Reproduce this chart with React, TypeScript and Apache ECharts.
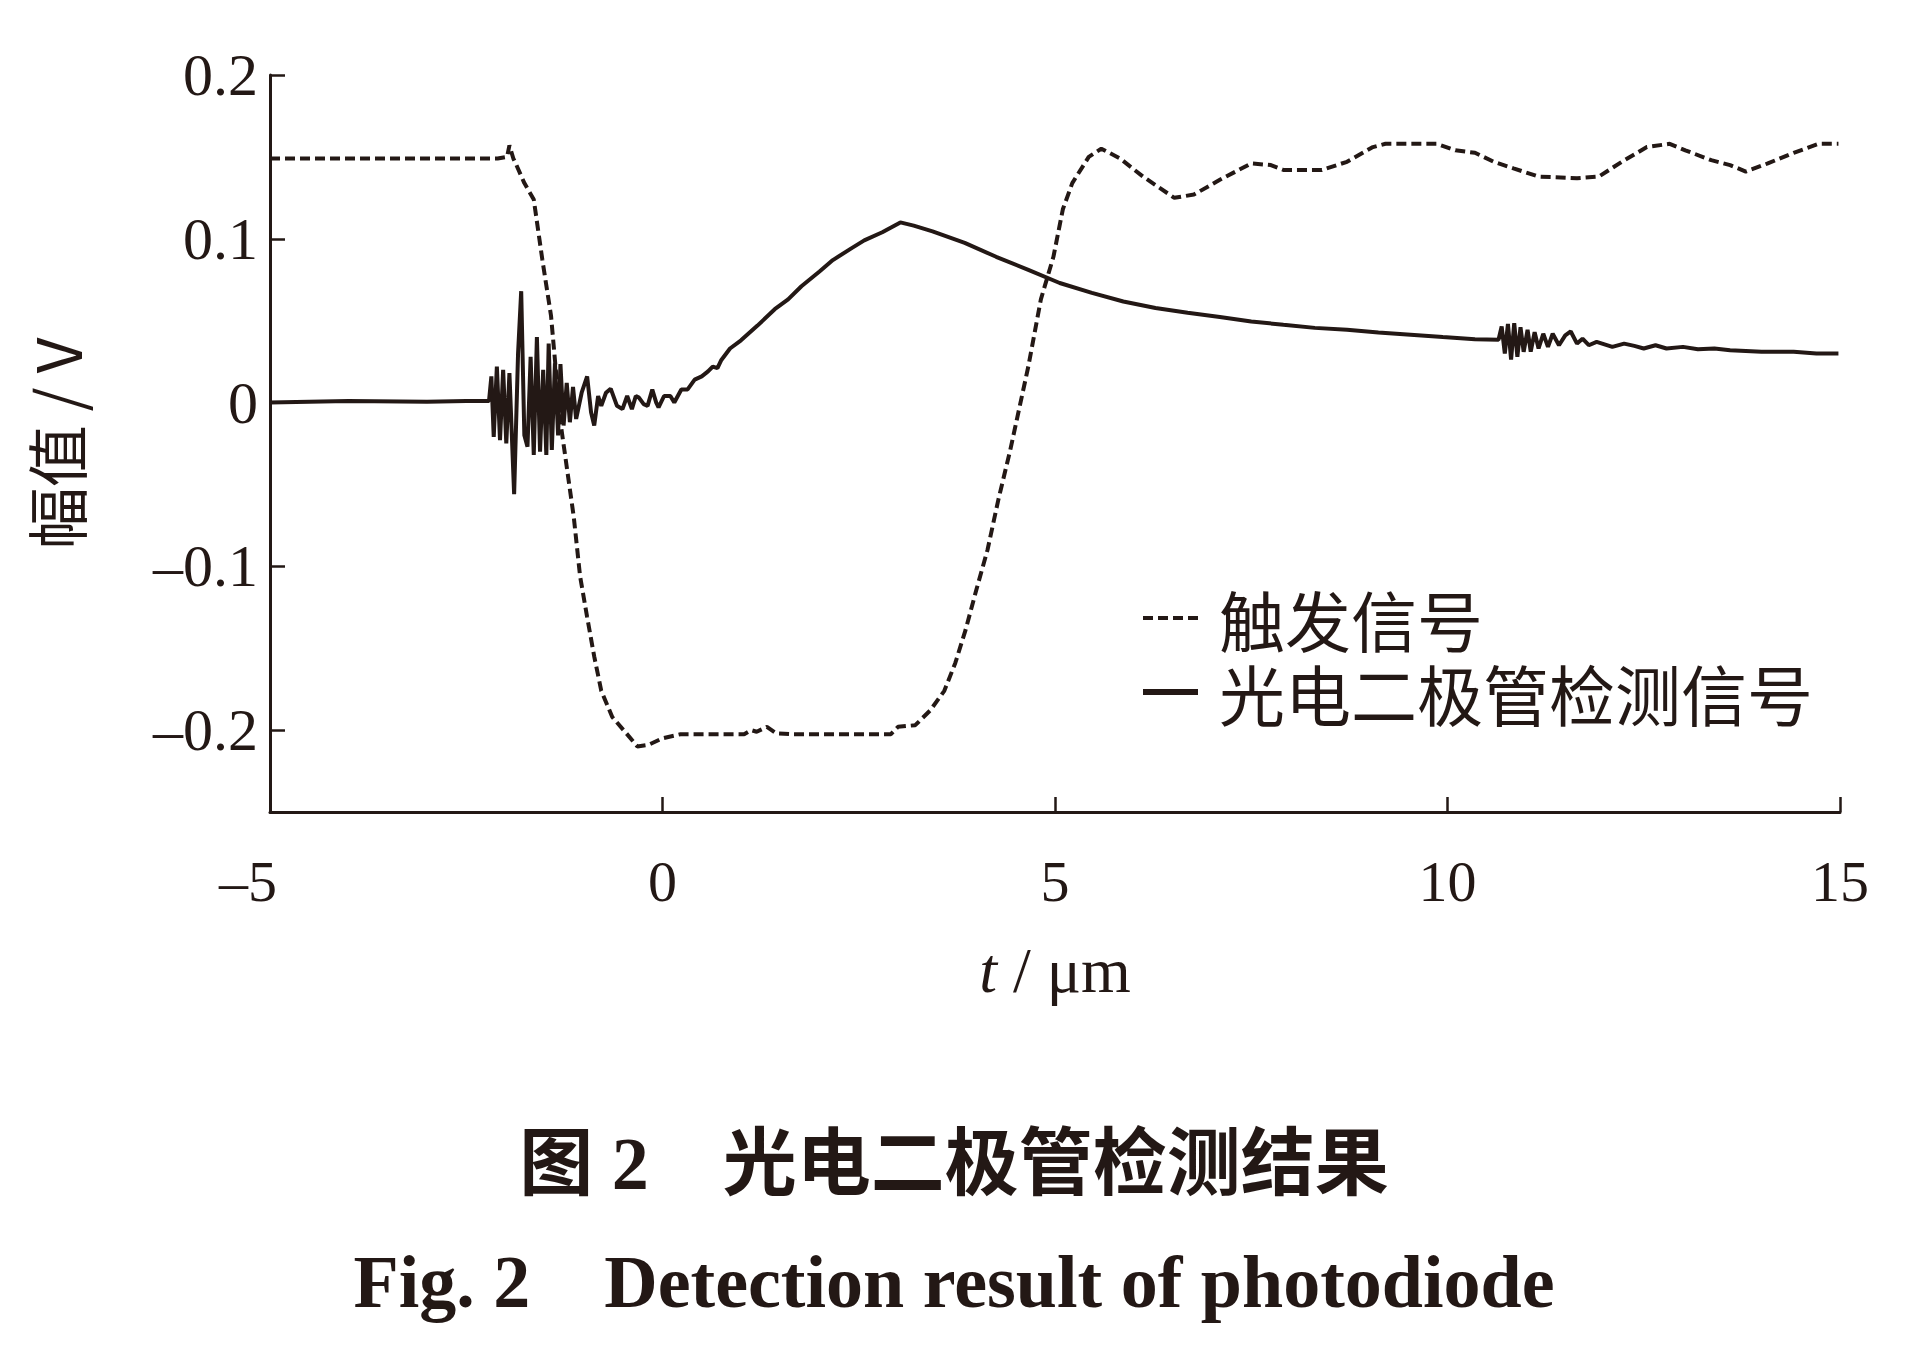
import React, { useEffect, useRef } from "react";
import * as echarts from "echarts";

const INK = "#231815";

const xTicks = [-5, 0, 5, 10, 15];
const yTicks = [-0.2, -0.1, 0, 0.1, 0.2];

const seriesNames = ["触发信号", "光电二极管检测信号"];

// 触发信号 (dashed)
const triggerT = [-5, -4, -3, -2.1, -1.98, -1.95, -1.9, -1.87, -1.76, -1.64, -1.53, -1.42, -1.3, -1.25, -1.13, -1.05, -0.96, -0.87, -0.78, -0.64, -0.46, -0.32, -0.18, 0.0, 0.23, 0.6, 1.04, 1.13, 1.2, 1.33, 1.45, 1.64, 2.2, 2.91, 3.0, 3.22, 3.41, 3.59, 3.73, 3.86, 4.0, 4.14, 4.28, 4.43, 4.66, 4.82, 4.98, 5.1, 5.22, 5.43, 5.59, 5.83, 6.12, 6.52, 6.77, 7.1, 7.5, 7.75, 7.91, 8.4, 8.72, 9.05, 9.21, 9.86, 10.1, 10.35, 10.59, 10.84, 11.16, 11.65, 11.93, 12.22, 12.54, 12.83, 13.03, 13.36, 13.6, 13.8, 14.08, 14.41, 14.73, 14.98];
const triggerV = [0.149, 0.149, 0.149, 0.149, 0.15, 0.157, 0.149, 0.146, 0.134, 0.124, 0.087, 0.053, -0.012, -0.029, -0.07, -0.106, -0.131, -0.155, -0.176, -0.192, -0.202, -0.21, -0.209, -0.205, -0.2025, -0.2025, -0.2025, -0.2, -0.201, -0.198, -0.202, -0.2025, -0.2025, -0.2025, -0.198, -0.197, -0.188, -0.176, -0.159, -0.139, -0.114, -0.09, -0.059, -0.029, 0.022, 0.063, 0.089, 0.118, 0.134, 0.15, 0.155, 0.149, 0.138, 0.125, 0.127, 0.136, 0.146, 0.145, 0.142, 0.142, 0.147, 0.156, 0.158, 0.158, 0.154, 0.1525, 0.147, 0.143, 0.138, 0.137, 0.138, 0.147, 0.156, 0.158, 0.154, 0.148, 0.145, 0.141, 0.146, 0.1525, 0.158, 0.158];

// 光电二极管检测信号 (solid)
const diodeT = [-5, -4, -3, -2.5, -2.21, -2.18, -2.15, -2.11, -2.07, -2.03, -1.99, -1.95, -1.89, -1.84, -1.8, -1.76, -1.72, -1.68, -1.64, -1.6, -1.56, -1.52, -1.48, -1.45, -1.41, -1.37, -1.33, -1.3, -1.26, -1.22, -1.18, -1.14, -1.1, -1.03, -0.96, -0.91, -0.87, -0.82, -0.78, -0.72, -0.66, -0.58, -0.51, -0.45, -0.39, -0.34, -0.3, -0.24, -0.19, -0.13, -0.08, -0.05, 0.02, 0.1, 0.15, 0.24, 0.32, 0.41, 0.5, 0.58, 0.64, 0.7, 0.75, 0.86, 1.0, 1.21, 1.43, 1.6, 1.77, 2.0, 2.17, 2.4, 2.57, 2.8, 3.03, 3.2, 3.44, 3.85, 4.25, 4.66, 5.06, 5.47, 5.87, 6.28, 6.69, 7.1, 7.5, 7.91, 8.31, 8.72, 9.12, 9.53, 9.94, 10.35, 10.65, 10.69, 10.73, 10.77, 10.81, 10.85, 10.89, 10.93, 10.97, 11.02, 11.06, 11.11, 11.16, 11.22, 11.28, 11.34, 11.42, 11.5, 11.57, 11.65, 11.72, 11.8, 11.9, 11.97, 12.1, 12.25, 12.38, 12.5, 12.65, 12.79, 13.0, 13.19, 13.4, 13.6, 14.0, 14.41, 14.7, 14.98];
const diodeV = [0.0, 0.001, 0.0005, 0.001, 0.001, 0.016, -0.021, 0.022, -0.023, 0.02, -0.025, 0.018, -0.056, 0.03, 0.068, -0.02, -0.027, 0.028, -0.032, 0.04, -0.03, 0.02, -0.032, 0.036, -0.029, 0.024, -0.02, 0.0235, -0.014, 0.012, -0.012, 0.0095, -0.01, 0.006, 0.016, -0.006, -0.014, 0.004, -0.002, 0.006, 0.0085, -0.002, -0.004, 0.004, -0.004, 0.004, 0.003, -0.001, -0.002, 0.008, 0.0, -0.003, 0.004, 0.004, 0.0, 0.008, 0.008, 0.014, 0.016, 0.019, 0.022, 0.021, 0.026, 0.033, 0.038, 0.047, 0.057, 0.063, 0.071, 0.08, 0.087, 0.094, 0.099, 0.104, 0.11, 0.108, 0.1045, 0.0975, 0.089, 0.081, 0.073, 0.067, 0.0617, 0.0577, 0.0548, 0.0523, 0.0495, 0.0475, 0.0456, 0.0444, 0.0428, 0.0414, 0.04, 0.0387, 0.0383, 0.0465, 0.03, 0.048, 0.0262, 0.0485, 0.028, 0.046, 0.031, 0.0444, 0.0311, 0.043, 0.033, 0.042, 0.034, 0.042, 0.035, 0.041, 0.0434, 0.036, 0.039, 0.035, 0.037, 0.036, 0.034, 0.036, 0.0346, 0.033, 0.035, 0.033, 0.034, 0.0325, 0.033, 0.032, 0.031, 0.031, 0.03, 0.03];

const captionCn = "图 2\u3000光电二极管检测结果";
const captionEn = "Fig. 2\u2003Detection result of photodiode";

const SERIF = "'Liberation Serif', 'Times New Roman', serif";
const CJK = "'Noto Sans CJK SC', sans-serif";

function fmtNum(v: number): string {
  const s = String(Math.round(v * 100) / 100);
  return v < 0 ? "\u2013" + s.slice(1) : s;
}

export default function App() {
  const ref = useRef<HTMLDivElement>(null);

  useEffect(() => {
    if (!ref.current) return;
    const chart = echarts.init(ref.current, null, { renderer: "svg" });
    const trigger = triggerT.map((t, i) => [t, triggerV[i]]);
    const diode = diodeT.map((t, i) => [t, diodeV[i]]);
    const hiddenSymbol = { color: "rgba(0,0,0,0)", borderWidth: 0, opacity: 0 };

    chart.setOption({
      animation: false,
      backgroundColor: "#ffffff",
      grid: { left: 270, top: 75, width: 1570, height: 737, containLabel: false },
      xAxis: {
        type: "value",
        min: xTicks[0],
        max: xTicks[xTicks.length - 1],
        interval: 5,
        name: "{i|t} / μm",
        nameLocation: "middle",
        nameGap: 126,
        nameTextStyle: {
          fontFamily: SERIF,
          fontSize: 64,
          color: INK,
          rich: {
            i: { fontFamily: SERIF, fontSize: 64, fontStyle: "italic", color: INK },
          },
        },
        axisLine: { show: true, onZero: false, lineStyle: { color: INK, width: 3 } },
        axisTick: { show: true, inside: true, length: 15, lineStyle: { color: INK, width: 2.5 } },
        axisLabel: {
          margin: 40,
          fontFamily: SERIF,
          fontSize: 58,
          color: INK,
          formatter: (v: number) => (v < 0 ? "{n|" + fmtNum(v) + "}" : fmtNum(v)),
          rich: {
            n: { fontFamily: SERIF, fontSize: 58, color: INK, padding: [0, 44, 0, 0] },
          },
        },
        splitLine: { show: false },
      },
      yAxis: {
        type: "value",
        min: -0.25,
        max: 0.2,
        name: "幅值 / V",
        nameLocation: "middle",
        nameGap: 184,
        nameRotate: 90,
        nameTextStyle: { fontFamily: CJK, fontSize: 62, color: INK },
        axisLine: { show: true, onZero: false, lineStyle: { color: INK, width: 3 } },
        axisTick: {
          show: true,
          inside: true,
          length: 15,
          customValues: yTicks,
          lineStyle: { color: INK, width: 2.5 },
        },
        axisLabel: {
          margin: 12,
          customValues: yTicks,
          fontFamily: SERIF,
          fontSize: 60,
          color: INK,
          formatter: (v: number) => fmtNum(v),
        },
        splitLine: { show: false },
      },
      legend: {
        orient: "vertical",
        left: 1135,
        top: 580,
        itemWidth: 55,
        itemHeight: 14,
        itemGap: 8,
        textStyle: { fontFamily: CJK, fontSize: 66, color: INK, padding: [0, 0, 0, 16] },
        data: [
          { name: seriesNames[0], itemStyle: hiddenSymbol, lineStyle: { width: 4, type: [10, 5], color: INK } },
          { name: seriesNames[1], itemStyle: hiddenSymbol, lineStyle: { width: 6, type: "solid", color: INK } },
        ],
      },
      graphic: [
        {
          type: "text",
          x: 954,
          y: 1164,
          style: {
            text: captionCn,
            fontFamily: "'Liberation Serif', 'Noto Sans CJK SC', serif",
            fontWeight: "bold",
            fontSize: 74,
            fill: INK,
            textAlign: "center",
            textVerticalAlign: "middle",
          },
        },
        {
          type: "text",
          x: 954,
          y: 1282,
          style: {
            text: captionEn,
            fontFamily: SERIF,
            fontWeight: "bold",
            fontSize: 74,
            fill: INK,
            textAlign: "center",
            textVerticalAlign: "middle",
          },
        },
      ],
      series: [
        {
          name: seriesNames[0],
          type: "line",
          data: trigger,
          showSymbol: false,
          symbol: "none",
          lineStyle: { color: INK, width: 4, type: [10, 5] },
          itemStyle: { color: INK },
          z: 2,
        },
        {
          name: seriesNames[1],
          type: "line",
          data: diode,
          showSymbol: false,
          symbol: "none",
          lineStyle: { color: INK, width: 4, type: "solid" },
          itemStyle: { color: INK },
          z: 3,
        },
      ],
    });

    return () => chart.dispose();
  }, []);

  return (
    <div
      ref={ref}
      style={{ position: "absolute", left: 0, top: 0, width: 1905, height: 1361, background: "#fff" }}
    />
  );
}
